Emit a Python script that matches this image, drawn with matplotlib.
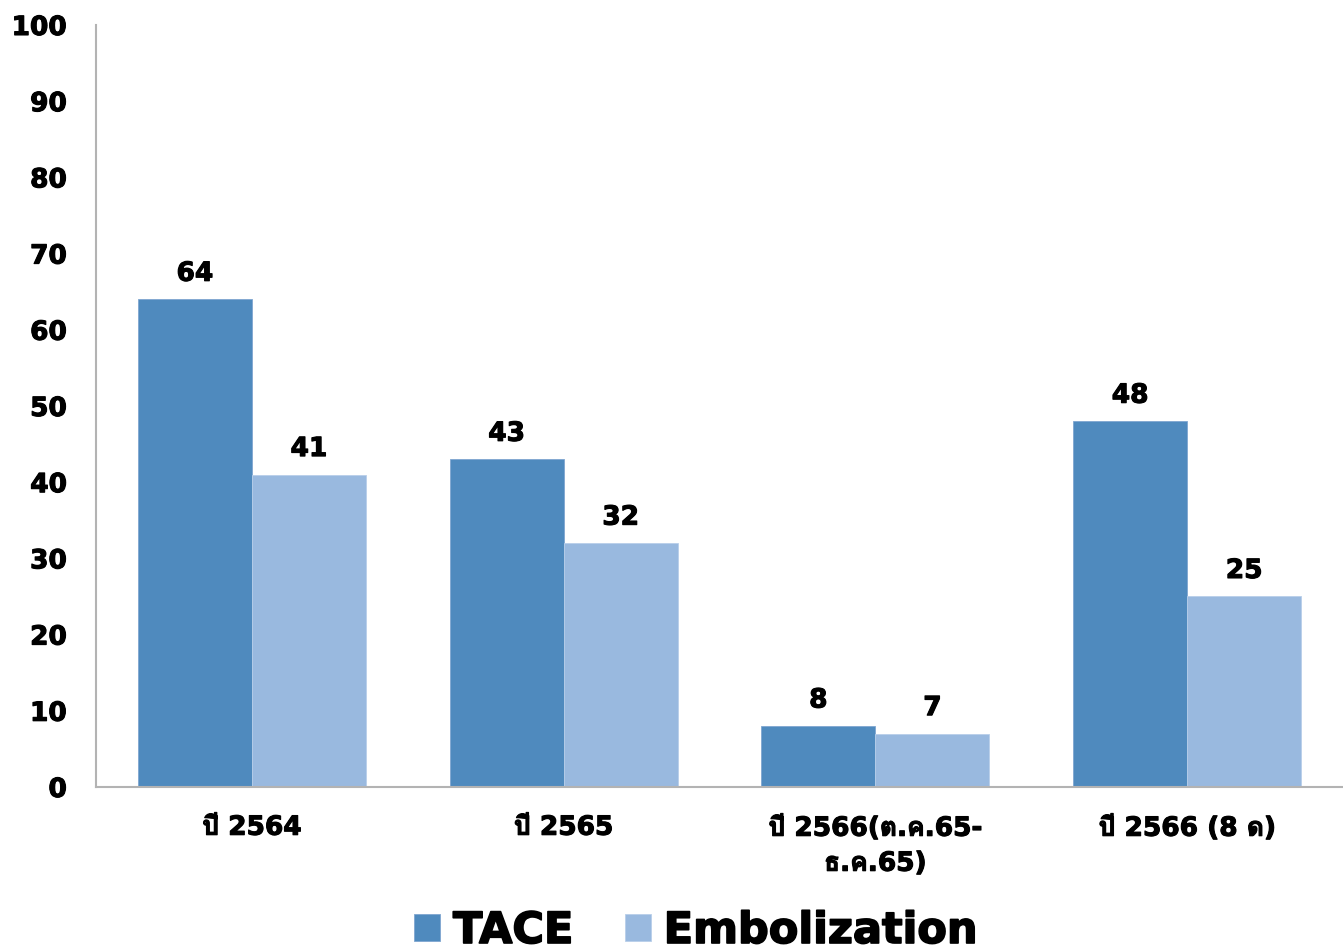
import matplotlib
matplotlib.use("Agg")
import matplotlib.pyplot as plt
import matplotlib.patheffects as pe
from matplotlib import font_manager
from matplotlib.ft2font import FT2Font
import numpy as np

categories = ["ปี 2564", "ปี 2565", "ปี 2566(ต.ค.65-\nธ.ค.65)", "ปี 2566 (8 ด)"]
tace = [64, 43, 8, 48]
embolization = [41, 32, 7, 25]
series_names = ["TACE", "Embolization"]
colors = ["#4F8ABE", "#99B9DF"]
yticks = list(range(0, 101, 10))


def find_thai_family():
    seen = set()
    for fe in font_manager.fontManager.ttflist:
        if fe.name in seen:
            continue
        try:
            f = FT2Font(fe.fname)
            if f.get_char_index(ord("ป")) and f.get_char_index(ord("ธ")):
                return fe.name
        except Exception:
            pass
        seen.add(fe.name)
    return None


thai = find_thai_family()
families = ["DejaVu Sans"] + ([thai] if thai else [])
plt.rcParams["font.family"] = families
plt.rcParams["font.weight"] = "bold"

heavy = [pe.withStroke(linewidth=0.8, foreground="black")]

fig = plt.figure(figsize=(13.43, 9.5), dpi=100)
ax = fig.add_axes([0.0715, 0.1716, 0.9285, 0.8021])

x = np.arange(len(categories))
w = 0.366
b1 = ax.bar(x - w / 2, tace, w, color=colors[0], edgecolor="#7FA6D0", linewidth=0.6, label=series_names[0])
b2 = ax.bar(x + w / 2, embolization, w, color=colors[1], edgecolor="#B8CFEA", linewidth=0.6, label=series_names[1])

for bars in (b1, b2):
    for t in ax.bar_label(bars, padding=9, fontsize=19, fontweight="bold"):
        t.set_path_effects(heavy)

ax.set_xlim(-0.5, len(categories) - 0.5)
ax.set_ylim(0, 100)
ax.set_yticks(yticks)
ax.set_yticklabels([str(t) for t in yticks], fontsize=19, fontweight="bold")
ax.set_xticks(x)
ax.set_xticklabels(categories, fontsize=19, fontweight="bold", linespacing=1.45)
ax.tick_params(axis="both", length=0)
ax.tick_params(axis="y", pad=21)
ax.tick_params(axis="x", pad=20)
for t in ax.get_xticklabels() + ax.get_yticklabels():
    t.set_path_effects(heavy)

for s in ("top", "right"):
    ax.spines[s].set_visible(False)
for s in ("left", "bottom"):
    ax.spines[s].set_color("#B3B3B3")
    ax.spines[s].set_linewidth(1.5)

leg = fig.legend(handles=[b1, b2], labels=series_names, loc="center",
                 bbox_to_anchor=(0.518, 0.02), ncol=2, frameon=False,
                 prop={"size": 31, "weight": "bold"}, handlelength=0.6,
                 handleheight=0.6, handletextpad=0.3, columnspacing=1.2)
for t in leg.get_texts():
    t.set_path_effects([pe.withStroke(linewidth=1.2, foreground="black")])

fig.savefig("out.png", dpi=100)
